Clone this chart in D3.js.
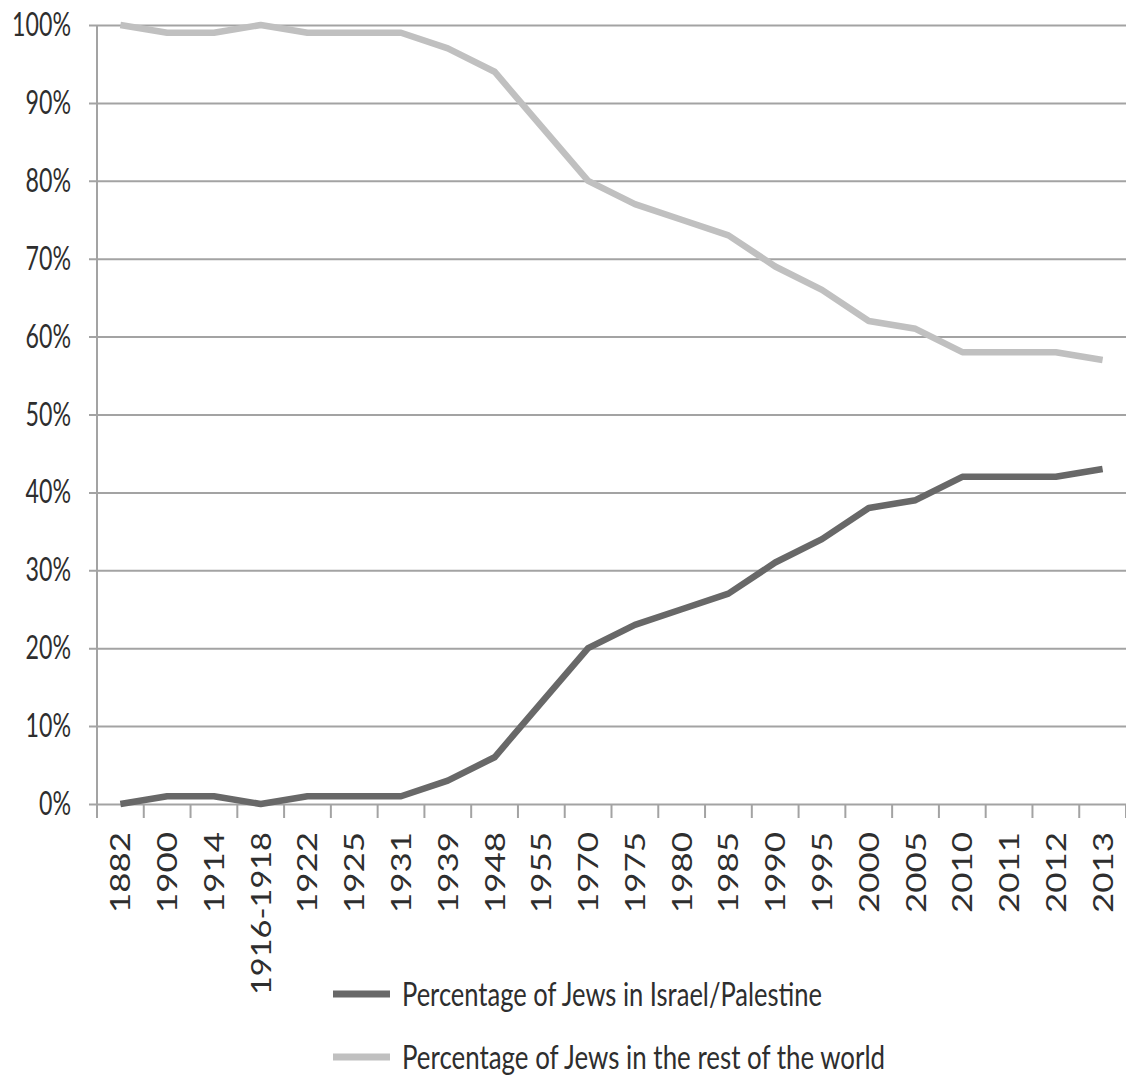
<!DOCTYPE html>
<html>
<head>
<meta charset="utf-8">
<script src="https://cdn.jsdelivr.net/npm/d3@7"></script>
<style>
  html, body { margin: 0; padding: 0; background: #fff; }
  svg { display: block; }
  text { font-family: Lato, "Open Sans", sans-serif; fill: #2e2e2e; }
</style>
</head>
<body>
<svg id="chart" width="1126" height="1077"></svg>
<script>
// Categories along the x axis
const years = ["1882", "1900", "1914", "1916-1918", "1922", "1925", "1931", "1939", "1948", "1955",
  "1970", "1975", "1980", "1985", "1990", "1995", "2000", "2005", "2010", "2011", "2012", "2013"];

// Share of world Jewry (percent)
const israelShare = [0, 1, 1, 0, 1, 1, 1, 3, 6, 13, 20, 23, 25, 27, 31, 34, 38, 39, 42, 42, 42, 43];
const restShare   = [100, 99, 99, 100, 99, 99, 99, 97, 94, 87, 80, 77, 75, 73, 69, 66, 62, 61, 58, 58, 58, 57];

const yTicks = [0, 10, 20, 30, 40, 50, 60, 70, 80, 90, 100];

const seriesNames = ["Percentage of Jews in Israel/Palestine", "Percentage of Jews in the rest of the world"];
const seriesColors = ["#686868", "#c0c0c0"];

const svg = d3.select("#chart");
const plotLeft = 97, plotRight = 1126, plotTop = 25, plotBottom = 804;

const x = d3.scaleBand().domain(years).range([plotLeft, plotRight]);
const y = d3.scaleLinear().domain([0, 100]).range([plotBottom, plotTop]);

// Horizontal gridlines with percent labels
const yAxis = d3.axisLeft(y)
  .tickValues(yTicks)
  .tickSize(-(plotRight - plotLeft))
  .tickSizeOuter(0)
  .tickPadding(26)
  .tickFormat(d => d + "%");

const gy = svg.append("g").attr("transform", `translate(${plotLeft},0)`).call(yAxis);
gy.select(".domain").remove();
gy.selectAll(".tick line")
  .attr("x1", -8)
  .attr("stroke", "#a3a3a3")
  .attr("stroke-width", 2);
gy.selectAll(".tick text")
  .attr("font-size", 33)
  .attr("fill", "#2e2e2e")
  .attr("font-family", "Lato, 'Open Sans', sans-serif");

// Condense the y labels horizontally
const refLabel = gy.selectAll(".tick text").filter(d => d === 100).node();
const ySx = 59 / refLabel.getComputedTextLength();
gy.selectAll(".tick text").each(function() {
  const t = d3.select(this);
  const tx = +t.attr("x");
  t.attr("x", null).attr("transform", `translate(${tx},0) scale(${ySx},1)`);
});

// Vertical axis line
svg.append("line")
  .attr("x1", plotLeft).attr("x2", plotLeft)
  .attr("y1", y(100)).attr("y2", plotBottom + 14)
  .attr("stroke", "#a3a3a3").attr("stroke-width", 2);

// Category tick marks at band boundaries
const boundaries = years.map(d => x(d)).concat([x.range()[1]]);
svg.append("g").selectAll("line")
  .data(boundaries.slice(1))
  .join("line")
  .attr("x1", d => d).attr("x2", d => d)
  .attr("y1", plotBottom).attr("y2", plotBottom + 14)
  .attr("stroke", "#a3a3a3").attr("stroke-width", 2);

// Rotated category labels
const xl = svg.append("g").selectAll("text")
  .data(years)
  .join("text")
  .attr("font-size", 26)
  .attr("text-anchor", "end")
  .attr("transform", d => `translate(${x(d) + x.bandwidth() / 2 + 10},832) rotate(-90)`)
  .text(d => d);
xl.attr("textLength", d => d.length > 4 ? 163 : 81)
  .attr("lengthAdjust", "spacingAndGlyphs");

// Series lines
const line = d3.line()
  .x((d, i) => x(years[i]) + x.bandwidth() / 2)
  .y(d => y(d));

[restShare, israelShare].forEach((vals, k) => {
  svg.append("path")
    .datum(vals)
    .attr("fill", "none")
    .attr("stroke", k === 0 ? seriesColors[1] : seriesColors[0])
    .attr("stroke-width", 6.5)
    .attr("stroke-linejoin", "round")
    .attr("stroke-linecap", "butt")
    .attr("d", line);
});

// Legend
const legendRows = [
  { name: seriesNames[0], color: seriesColors[0], y: 994, width: 420 },
  { name: seriesNames[1], color: seriesColors[1], y: 1057, width: 483 }
];
const lg = svg.append("g");
legendRows.forEach(r => {
  lg.append("line")
    .attr("x1", 333).attr("x2", 390)
    .attr("y1", r.y).attr("y2", r.y)
    .attr("stroke", r.color).attr("stroke-width", 7);
  lg.append("text")
    .attr("x", 402).attr("y", r.y + 12)
    .attr("font-size", 32)
    .attr("textLength", r.width)
    .attr("lengthAdjust", "spacingAndGlyphs")
    .text(r.name);
});
</script>
</body>
</html>
